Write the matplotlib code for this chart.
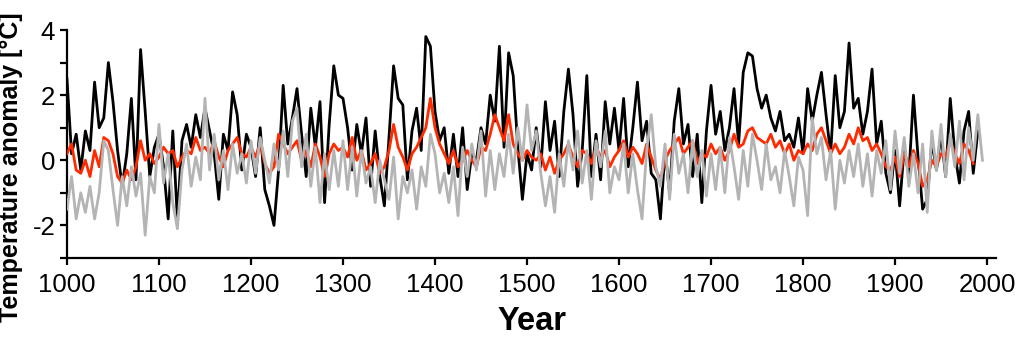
"""Temperature anomaly reconstructions, 1000-2000."""

import numpy as np
import matplotlib
matplotlib.use('Agg')
import matplotlib.pyplot as plt
from matplotlib.ticker import MultipleLocator

plt.rcParams['font.family'] = ['Liberation Sans', 'DejaVu Sans']

# values at 5-year steps
black_years = np.arange(1000, 1991, 5)
black_vals = [
    2.5, 0.2, 0.8, -0.3, 0.9, 0.3, 2.4, 1.0, 1.3, 3.0, 1.8, 0.3, -0.8, 0.2, 1.9, -0.6, 3.4, 1.5, -0.5, 0.4,
    0.8, -0.2, -1.8, 0.9, -1.8, 0.6, 1.1, 0.4, 1.4, 0.7, 1.6, 0.9, 0.2, -1.2, 0.8, 0.3, 2.1, 1.4, -0.3, 0.8,
    0.4, -0.5, 1.0, -0.9, -1.4, -2.0, -0.3, 2.3, 0.5, 1.3, 2.2, 0.8, -0.5, 1.6, 0.4, 1.8, -1.3, 1.1, 2.9, 2.0,
    1.9, 1.0, -0.3, 1.1, 0.2, 1.3, -0.8, 0.9, -0.5, -1.4, 0.7, 2.9, 1.9, 1.7, -0.6, 0.9, 1.6, 0.3, 3.8, 3.5,
    1.5, 0.6, 1.0, -0.4, 0.8, -0.5, 1.0, -0.9, 0.2, 0.0, 1.0, 0.5, 2.0, 1.2, 3.5, 0.4, 3.3, 2.6, 0.4, -1.2,
    0.2, -0.3, 1.0, -0.2, 1.8, 0.3, 1.2, -0.5, 1.5, 2.8, 1.4, -0.8, 0.3, 2.6, -0.5, 0.8, -0.6, 1.8, 0.5, 1.6,
    0.3, 1.9, -0.2, 1.0, 2.4, 0.6, 1.2, -0.4, -0.6, -1.8, 0.3, -1.0, 1.2, 2.2, 0.5, 1.1, -0.5, 0.8, -1.3, 0.9,
    2.3, 0.8, 1.5, 0.3, 1.0, 2.2, 0.5, 2.7, 3.3, 3.2, 2.2, 1.6, 2.0, 1.3, 0.9, 1.5, 0.6, 0.8, 0.4, 1.3,
    0.2, 2.2, 1.2, 2.0, 2.7, 1.4, 0.2, 2.6, 1.0, 1.5, 3.6, 1.6, 1.9, 0.8, 1.5, 2.8, 0.5, 1.2, -0.4, -1.0,
    0.3, -1.4, 0.4, -0.5, 2.0, 0.1, -1.5, -1.2, 0.6, -0.3, 0.8, -0.5, 1.9, 0.2, -0.7, 0.9, 1.5, -0.4, 0.9,
]

grey_years = np.arange(1000, 1996, 5)
grey_vals = [
    -1.5, -0.5, -1.8, -1.0, -1.6, -0.8, -1.8, -1.0, 0.6, 0.3, -0.9, -2.0, -0.5, -1.4, -0.2, -1.1, -0.4, -2.3, -0.5, -1.0,
    1.1, -0.7, 0.2, -1.3, -2.1, -0.3, 0.5, -0.8, 0.1, -0.6, 1.9, -0.3, 0.8, -0.6, 0.3, -0.9, 0.5, -0.4, 0.2, -0.7,
    0.6, -0.4, 0.7, 0.0, -0.7, 0.5, -0.3, 0.9, -0.5, 1.2, 1.6, -0.2, 0.8, -0.8, 0.4, -1.3, 0.2, -0.9, 0.3, -0.8,
    0.6, -0.9, 0.4, -1.1, 0.3, -0.7, -0.2, -1.3, 0.0, -0.6, -1.2, 0.1, -1.8, -0.5, -1.0, -0.3, -1.5, -0.2, -0.8, 0.8,
    0.2, -1.0, -0.4, -1.3, -0.2, -1.7, 0.4, -0.5, 0.5, -0.3, 0.9, -1.1, 0.3, -0.9, 0.2, -0.5, 0.8, -0.4, 1.0, 0.0,
    1.7, 0.3, 0.9, -0.4, -1.4, -0.5, -1.6, 0.2, -0.8, 0.6, -0.3, 0.9, -0.7, 0.3, -1.2, 0.6, -0.2, 0.9, -1.0, -0.2,
    -0.6, 0.5, -1.0, 0.2, -0.9, -1.8, 0.3, 1.4, -0.2, -0.8, 0.5, -1.2, 0.8, -0.4, 0.2, -1.0, 0.6, -0.5, 0.3, -1.1,
    0.2, -0.9, 0.4, -1.0, 0.7, -0.2, -1.2, 0.3, -0.8, 0.8, 0.0, -0.9, 0.5, -0.6, -0.2, -1.0, 0.3, -0.5, -1.4, 0.1,
    -0.3, -1.7, 1.3, 0.2, 0.7, -0.6, 0.3, -1.5, 0.0, -0.7, 0.3, -0.5, 0.5, -0.8, 0.2, -1.1, 0.3, -0.4, 0.6, -0.9,
    0.9, -0.4, 0.7, -0.8, 0.2, -1.0, 0.5, -1.6, 0.9, -0.3, 1.1, -0.5, 0.8, -0.2, 1.2, -0.6, 1.0, 0.0, 1.4, 0.0,
]

red_years = np.arange(1000, 1986, 5)
red_vals = [
    0.2, 0.5, -0.3, -0.4, 0.0, -0.5, 0.3, -0.2, 0.7, 0.6, 0.2, -0.5, -0.7, -0.3, -0.6, -0.2, 0.6, 0.0, 0.2, -0.1,
    0.1, 0.4, 0.2, 0.3, -0.2, 0.1, 0.3, 0.2, 0.7, 0.3, 0.4, 0.2, 0.6, 0.1, -0.2, 0.3, 0.5, 0.7, 0.2, 0.1,
    0.4, 0.1, 0.5, -0.1, -0.4, -0.2, 0.8, 0.5, 0.2, 0.4, 0.6, 0.0, 0.3, -0.2, 0.5, 0.1, -0.5, 0.2, 0.5, 0.3,
    0.4, 0.1, 0.7, 0.0, 0.3, -0.3, -0.1, 0.2, -0.4, -0.2, 0.3, 1.1, 0.4, 0.1, -0.3, 0.2, 0.4, 0.7, 1.0, 1.9,
    1.0, 0.5, 0.2, -0.1, 0.3, -0.2, 0.0, 0.3, 0.0, -0.2, 0.4, 0.3, 0.8, 1.4, 1.0, 0.6, 1.4, 0.5, 0.2, 0.0,
    0.3, 0.1, 0.0, 0.2, -0.3, 0.1, -0.4, 0.0, 0.2, 0.5, 0.1, -0.2, 0.3, 0.2, -0.1, 0.4, 0.1, 0.3, -0.2, 0.1,
    0.3, 0.6, 0.1, 0.4, 0.2, -0.1, 0.5, 0.1, -0.3, -0.6, 0.0, 0.3, 0.5, 0.7, 0.2, 0.4, 0.6, -0.1, 0.2, 0.1,
    0.5, 0.2, 0.4, 0.0, 0.3, 0.8, 0.4, 0.5, 0.9, 1.0, 0.7, 0.6, 0.5, 0.8, 0.4, 0.6, 0.2, 0.5, 0.0, 0.3,
    0.2, 0.5, 0.3, 0.8, 1.0, 0.6, 0.2, 0.5, 0.2, 0.4, 0.8, 0.5, 1.0, 0.6, 0.7, 0.3, 0.5, 0.2, -0.2, -0.3,
    0.1, -0.5, 0.2, -0.2, 0.3, -0.1, -0.8, -0.6, 0.0, -0.2, 0.2, 0.1, 0.6, 0.2, -0.1, 0.5, 0.3, -0.1,
]

y_ticks = [-2, 0, 2, 4]
y_tick_labels = ['-2', '0', '2', '4']
x_ticks = list(range(1000, 2001, 100))

fig = plt.figure(figsize=(10.24, 3.39), dpi=100)
ax = fig.add_axes([0.0654, 0.239, 0.9075, 0.6725])

ax.plot(black_years, black_vals, color='black', linewidth=2.0, zorder=2)
ax.plot(red_years, red_vals, color='#ff2a00', linewidth=2.0, zorder=3)
ax.plot(grey_years, grey_vals, color='#b4b4b4', linewidth=2.0, zorder=4)

ax.set_xlim(1000, 2010)
ax.set_ylim(-3, 4)
ax.set_xticks(x_ticks)
ax.set_yticks(y_ticks)
ax.set_yticklabels(y_tick_labels)
ax.yaxis.set_minor_locator(MultipleLocator(1))

for side in ('top', 'right'):
    ax.spines[side].set_visible(False)
for side in ('left', 'bottom'):
    ax.spines[side].set_linewidth(1.6)

ax.tick_params(which='both', direction='out', length=5, width=1.6, labelsize=18.5)
ax.tick_params(axis='x', pad=6)

ax.set_xlabel('Year', fontsize=23.5, fontweight='bold', labelpad=6)
ax.set_ylabel('Temperature anomaly [°C]', fontsize=18, fontweight='bold')
# the label sits lower than the axis centre in the original
ax.yaxis.set_label_coords(-0.047, 0.40)

fig.savefig('out.png', dpi=100)
